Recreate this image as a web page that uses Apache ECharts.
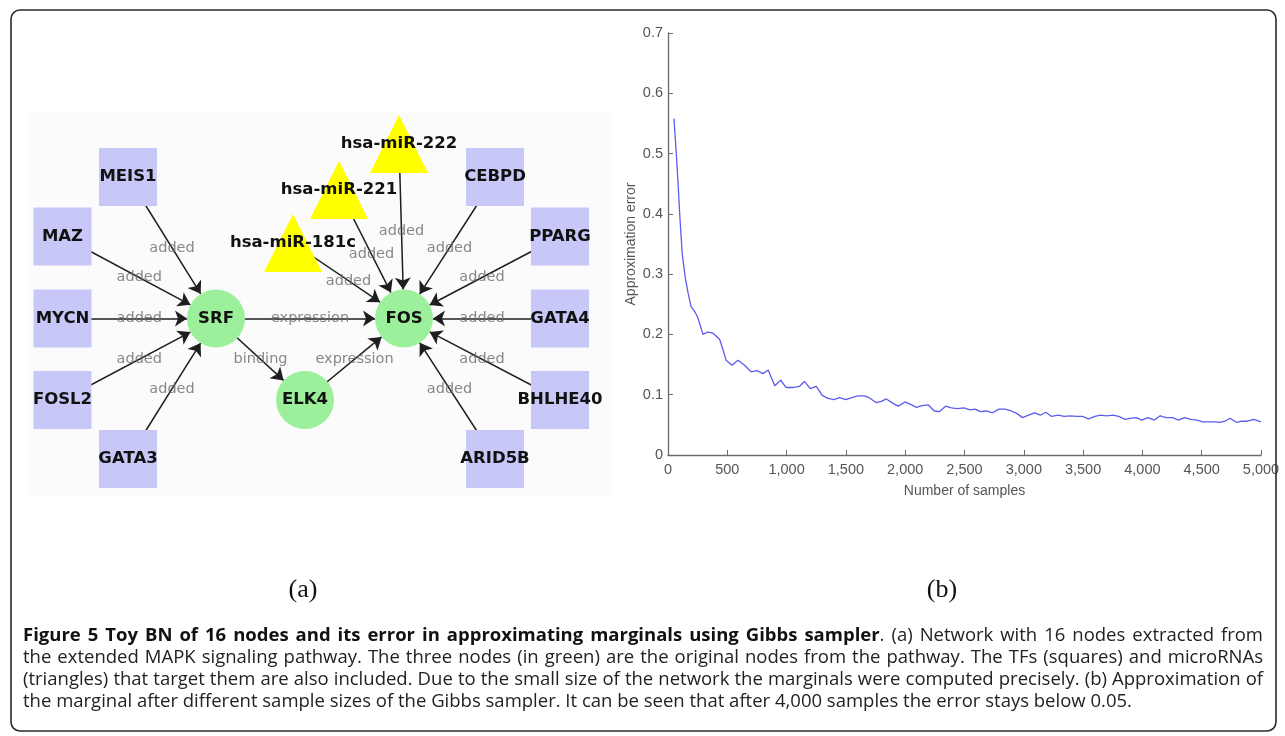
<!DOCTYPE html>
<html><head><meta charset="utf-8">
<script src="https://cdn.jsdelivr.net/npm/echarts@6/dist/echarts.min.js"></script>
<style>html,body{margin:0;padding:0;background:#fff}#c{width:1285px;height:736px}</style>
</head><body><div id="c"></div>
<script>
// ---- network (panel a) ----
const nodeNames = ['MEIS1','MAZ','MYCN','FOSL2','GATA3','SRF','ELK4','FOS','hsa-miR-181c','hsa-miR-221','hsa-miR-222','CEBPD','PPARG','GATA4','BHLHE40','ARID5B'];
const nodeKinds = ['tf','tf','tf','tf','tf','pathway','pathway','pathway','mirna','mirna','mirna','tf','tf','tf','tf','tf'];
const nodeX = [100, 34.5, 34.5, 34.5, 100, 188, 277, 376, 265, 311, 371, 467, 532, 532, 532, 467];
const nodeY = [65, 124.5, 206.5, 288, 347, 206.5, 288, 206.5, 131, 78, 32, 65, 124.5, 206.5, 288, 347];
const linkSources = ['MEIS1','MAZ','MYCN','FOSL2','GATA3','SRF','SRF','ELK4','hsa-miR-181c','hsa-miR-221','hsa-miR-222','CEBPD','PPARG','GATA4','BHLHE40','ARID5B'];
const linkTargets = ['SRF','SRF','SRF','SRF','SRF','FOS','ELK4','FOS','FOS','FOS','FOS','FOS','FOS','FOS','FOS','FOS'];
const linkLabels = ['added','added','added','added','added','expression','binding','expression','added','added','added','added','added','added','added','added'];

// ---- approximation error (panel b) ----
const samples = [50,70,85,100,120,145,170,195,225,250,
  275,295,335,380,435,460,490,540,590,645,
  700,750,800,845,900,950,995,1055,1110,1150,
  1200,1250,1300,1350,1400,1445,1500,1550,1600,1655,
  1695,1755,1800,1840,1895,1940,2000,2045,2095,2140,
  2195,2245,2290,2340,2390,2440,2495,2545,2590,2635,
  2685,2735,2790,2840,2895,2940,2990,3040,3090,3140,
  3185,3235,3290,3340,3390,3445,3495,3545,3600,3645,
  3700,3750,3800,3855,3905,3950,3995,4045,4100,4150,
  4200,4255,4305,4355,4410,4460,4510,4565,4615,4655,
  4695,4740,4795,4835,4885,4940,5000];
const approxError = [0.558,0.5,0.45,0.395,0.334,0.295,0.268,0.246,0.238,0.229,
  0.213,0.2,0.204,0.202,0.192,0.177,0.157,0.149,0.157,0.149,
  0.138,0.140,0.135,0.141,0.115,0.124,0.112,0.112,0.114,0.122,
  0.110,0.114,0.099,0.094,0.092,0.095,0.092,0.095,0.098,0.098,
  0.095,0.087,0.089,0.093,0.086,0.081,0.088,0.084,0.079,0.082,
  0.083,0.073,0.072,0.081,0.078,0.077,0.078,0.075,0.076,0.072,
  0.073,0.070,0.076,0.076,0.073,0.069,0.062,0.066,0.070,0.066,
  0.071,0.064,0.066,0.064,0.065,0.064,0.064,0.060,0.064,0.066,
  0.065,0.066,0.064,0.059,0.061,0.062,0.058,0.062,0.058,0.065,
  0.062,0.062,0.058,0.062,0.059,0.058,0.055,0.055,0.055,0.054,
  0.056,0.061,0.054,0.056,0.056,0.059,0.055];

const panelLabels = ['(a)', '(b)'];
const captionTitle = 'Figure 5 Toy BN of 16 nodes and its error in approximating marginals using Gibbs sampler';
const captionLines = [
  '. (a) Network with 16 nodes extracted from',
  'the extended MAPK signaling pathway. The three nodes (in green) are the original nodes from the pathway. The TFs (squares) and microRNAs',
  '(triangles) that target them are also included. Due to the small size of the network the marginals were computed precisely. (b) Approximation of',
  'the marginal after different sample sizes of the Gibbs sampler. It can be seen that after 4,000 samples the error stays below 0.05.'
];

// ---- styling ----
const kindStyle = {
  tf: { symbol: 'rect', color: '#c8c8f8' },
  mirna: { symbol: 'triangle', color: '#ffff00' },
  pathway: { symbol: 'circle', color: '#9cf09c' }
};
const nodeSize = 58;

const graphNodes = nodeNames.map((n, i) => ({
  name: n,
  value: [nodeX[i], nodeY[i]],
  symbol: kindStyle[nodeKinds[i]].symbol,
  itemStyle: { color: kindStyle[nodeKinds[i]].color }
}));
const graphLinks = linkSources.map((s, i) => ({ source: s, target: linkTargets[i] }));
const pos = {};
nodeNames.forEach((n, i) => { pos[n] = [nodeX[i], nodeY[i]]; });
const edgeLabelPoints = linkSources.map((s, i) => ({
  name: linkLabels[i],
  value: [(pos[s][0] + pos[linkTargets[i]][0]) / 2, (pos[s][1] + pos[linkTargets[i]][1]) / 2]
}));
const lineData = samples.map((x, i) => [x, approxError[i]]);

// ---- caption layout (justified lines) ----
const captionFamily = '"Open Sans", "Noto Sans", sans-serif';
const capX = 23, capRight = 1263, capY0 = 636, capDy = 22, capSize = 18.5;
const fontStr = bold => (bold ? 'bold ' : '') + capSize + 'px ' + captionFamily;
const mctx = document.createElement('canvas').getContext('2d');
const tw = (s, bold) => { mctx.font = fontStr(bold); return mctx.measureText(s).width; };

function wordsOf(str, bold) { return str.split(' ').filter(w => w.length).map(w => [{ text: w, bold: bold }]); }
const lineWords = [];
{
  const first = wordsOf(captionTitle, true);
  const rest = wordsOf(captionLines[0], false);
  // leading '.' is glued to the last bold word
  first[first.length - 1].push(rest.shift()[0]);
  lineWords.push(first.concat(rest));
  for (let i = 1; i < captionLines.length; i++) lineWords.push(wordsOf(captionLines[i], false));
}
const captionGraphic = [];
lineWords.forEach((words, li) => {
  const widths = words.map(w => w.reduce((a, s) => a + tw(s.text, s.bold), 0));
  const total = widths.reduce((a, b) => a + b, 0);
  const justify = li < lineWords.length - 1;
  const gap = justify ? (capRight - capX - total) / (words.length - 1) : tw(' ', false);
  let x = capX;
  const y = capY0 + capDy * li;
  words.forEach((w, wi) => {
    let sx = x;
    w.forEach(seg => {
      captionGraphic.push({ type: 'text', x: sx, y: y, style: { text: seg.text, font: fontStr(seg.bold), fill: seg.bold ? '#111' : '#222', align: 'left', verticalAlign: 'middle' } });
      sx += tw(seg.text, seg.bold);
    });
    x += widths[wi] + gap;
  });
});

const graphic = [
  { type: 'rect', z: -10, shape: { x: 28, y: 112, width: 584, height: 384 }, style: { fill: '#fbfbfb' } },
  { type: 'rect', z: 100, shape: { x: 11, y: 10, width: 1265, height: 721, r: 9 }, style: { fill: 'none', stroke: '#2a2a2a', lineWidth: 1.6 } },
  { type: 'text', x: 303, y: 590, style: { text: panelLabels[0], font: '26px "Liberation Serif", serif', fill: '#111', align: 'center', verticalAlign: 'middle' } },
  { type: 'text', x: 942, y: 590, style: { text: panelLabels[1], font: '26px "Liberation Serif", serif', fill: '#111', align: 'center', verticalAlign: 'middle' } }
].concat(captionGraphic);

const axisGray = '#555';
const axisFont = '"Liberation Sans Narrow", "Liberation Sans", Arial, sans-serif';
const chart = echarts.init(document.getElementById('c'), null, { renderer: 'canvas' });
chart.setOption({
  animation: false,
  backgroundColor: '#ffffff',
  graphic: graphic,
  grid: [
    { left: 28, top: 112, width: 584, height: 384, containLabel: false, outerBoundsMode: 'none' },
    { left: 668, top: 33, width: 593, height: 422, containLabel: false, outerBoundsMode: 'none' }
  ],
  xAxis: [
    { gridIndex: 0, type: 'value', min: 0, max: 584, show: false },
    { gridIndex: 1, type: 'value', min: 0, max: 5000, interval: 500,
      name: 'Number of samples', nameLocation: 'middle', nameGap: 29,
      nameTextStyle: { color: axisGray, fontSize: 14, fontFamily: axisFont },
      axisLine: { show: true, lineStyle: { color: '#6a6a6a', width: 1.3 } },
      axisTick: { show: true, inside: true, length: 5, lineStyle: { color: '#6a6a6a' } },
      axisLabel: { color: axisGray, fontSize: 14.5, margin: 7, fontFamily: axisFont,
        formatter: v => v.toLocaleString('en-US') },
      splitLine: { show: false } }
  ],
  yAxis: [
    { gridIndex: 0, type: 'value', min: 0, max: 384, inverse: true, show: false },
    { gridIndex: 1, type: 'value', min: 0, max: 0.7, interval: 0.1,
      name: 'Approximation error', nameLocation: 'middle', nameGap: 30, nameRotate: 90,
      nameTextStyle: { color: axisGray, fontSize: 14, fontFamily: axisFont },
      axisLine: { show: true, lineStyle: { color: '#6a6a6a', width: 1.3 } },
      axisTick: { show: true, inside: true, length: 5, lineStyle: { color: '#6a6a6a' } },
      axisLabel: { color: axisGray, fontSize: 14.5, margin: 5, fontFamily: axisFont },
      splitLine: { show: false } }
  ],
  series: [
    {
      type: 'graph', coordinateSystem: 'cartesian2d', xAxisIndex: 0, yAxisIndex: 0,
      layout: 'none', symbolSize: nodeSize, roam: false,
      edgeSymbol: ['none', 'arrow'], edgeSymbolSize: [4, 12],
      data: graphNodes, links: graphLinks,
      label: { show: true, position: 'inside', color: '#111', fontWeight: 'bold', fontSize: 16.5, fontFamily: '"DejaVu Sans", sans-serif' },
      lineStyle: { color: '#1e1e1e', width: 1.5, opacity: 1, curveness: 0 },
      emphasis: { disabled: true },
      z: 2
    },
    {
      type: 'scatter', xAxisIndex: 0, yAxisIndex: 0,
      data: edgeLabelPoints, symbolSize: 1,
      itemStyle: { color: 'rgba(0,0,0,0)' },
      label: { show: true, position: 'inside', formatter: p => p.name, color: '#6a6a6a', fontSize: 14.5, fontFamily: '"DejaVu Sans", sans-serif' },
      emphasis: { disabled: true },
      silent: true, z: 3
    },
    {
      type: 'line', xAxisIndex: 1, yAxisIndex: 1,
      data: lineData, showSymbol: false, symbol: 'none',
      lineStyle: { color: '#5c5cee', width: 1.3 },
      emphasis: { disabled: true }
    }
  ]
});
</script>
</body></html>
